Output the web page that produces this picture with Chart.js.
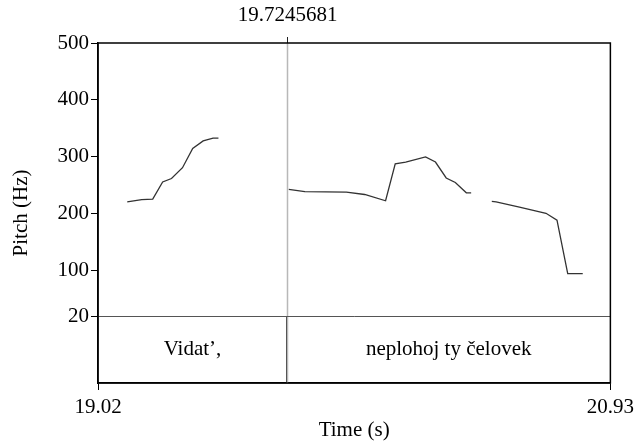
<!DOCTYPE html>
<html>
<head>
<meta charset="utf-8">
<script src="https://cdn.jsdelivr.net/npm/chart.js@4.4.1/dist/chart.umd.min.js"></script>
<style>
    html, body { margin: 0; padding: 0; background: #fff; }
    #wrap { width: 639px; height: 444px; }
</style>
</head>
<body>
<div id="wrap"><canvas id="pitch"></canvas></div>
<script>
// Zeitachse (s) und Tonhöhe (Hz), null trennt stimmlose Abschnitte
const timeValues = [
    19.129, 19.183, 19.224, 19.261, 19.294, 19.335, 19.373, 19.412, 19.449, 19.469,
    19.47,
    19.731, 19.791, 19.946, 20.014, 20.092, 20.128, 20.167, 20.241, 20.278, 20.318, 20.352, 20.393, 20.411,
    20.42,
    20.488, 20.504, 20.591, 20.690, 20.731, 20.771, 20.827
];
const pitchValues = [
    221, 225, 226, 256, 262, 281, 315, 328, 333, 333,
    null,
    243, 239, 238, 234, 223, 288, 291, 300, 291, 263, 255, 237, 237,
    null,
    222, 221, 212, 201, 189, 95, 95
];

const xTicks = [19.02, 20.93];
const yTicks = [20, 100, 200, 300, 400, 500];
const cursorTime = 19.7245681;
const tierBounds = [19.02, 19.7245681, 20.93];
const tierLabels = ['Vidat’,', 'neplohoj ty čelovek'];
const tierBottom = -97; // unterer Rand der Textschicht in Hz-Einheiten

const FONT = 'Liberation Serif, Times New Roman, serif';
const FONT_SIZE = 21;

const points = timeValues.map((t, i) => ({ x: t, y: pitchValues[i] }));

// Rahmen, Cursor und Textschicht
const praatPlugin = {
    id: 'praat',
    afterDatasetsDraw(chart) {
        const ctx = chart.ctx;
        const area = chart.chartArea;
        const xs = chart.scales.x;
        const ys = chart.scales.y;
        const y20 = ys.getPixelForValue(20);
        const cx = Math.round(xs.getPixelForValue(cursorTime)) + 0.5;

        ctx.save();
        // Cursor
        ctx.strokeStyle = '#b8b8b8';
        ctx.lineWidth = 1.5;
        ctx.beginPath();
        ctx.moveTo(cx, area.top);
        ctx.lineTo(cx, area.bottom);
        ctx.stroke();
        ctx.strokeStyle = '#222';
        ctx.lineWidth = 1;
        ctx.beginPath();
        ctx.moveTo(cx, area.top - 6);
        ctx.lineTo(cx, area.top);
        ctx.stroke();

        // Grenze zwischen Tonhöhe und Textschicht
        ctx.strokeStyle = '#555';
        ctx.lineWidth = 1;
        ctx.beginPath();
        ctx.moveTo(area.left, Math.round(y20) + 0.5);
        ctx.lineTo(area.right, Math.round(y20) + 0.5);
        ctx.stroke();

        // Intervallgrenzen
        for (let i = 1; i < tierBounds.length - 1; i++) {
            const bx = Math.round(xs.getPixelForValue(tierBounds[i])) - 0.5;
            ctx.strokeStyle = '#555';
            ctx.beginPath();
            ctx.moveTo(bx, y20);
            ctx.lineTo(bx, area.bottom);
            ctx.stroke();
        }

        // Beschriftungen
        ctx.fillStyle = '#000';
        ctx.font = FONT_SIZE + 'px ' + FONT;
        ctx.textAlign = 'center';
        ctx.textBaseline = 'middle';
        const midY = (y20 + area.bottom) / 2;
        tierLabels.forEach((label, i) => {
            const mx = (xs.getPixelForValue(tierBounds[i]) + xs.getPixelForValue(tierBounds[i + 1])) / 2;
            ctx.fillText(label, mx, midY);
        });
        ctx.fillText(cursorTime.toFixed(7), cx, area.top - 28);

        // Rahmen
        ctx.strokeStyle = '#000';
        ctx.lineWidth = 1.5;
        ctx.strokeRect(area.left, area.top, area.right - area.left, area.bottom - area.top);
        ctx.restore();
    }
};

new Chart(document.getElementById('pitch'), {
    type: 'line',
    data: {
        datasets: [{
            data: points,
            borderColor: '#333',
            borderWidth: 1.3,
            pointRadius: 0,
            tension: 0,
            spanGaps: false
        }]
    },
    options: {
        responsive: true,
        maintainAspectRatio: false,
        animation: false,
        events: [],
        layout: { padding: { top: 43, right: 28, left: 0, bottom: 0 } },
        plugins: { legend: { display: false }, tooltip: { enabled: false } },
        scales: {
            x: {
                type: 'linear',
                min: 19.02,
                max: 20.93,
                afterBuildTicks: scale => { scale.ticks = xTicks.map(v => ({ value: v })); },
                afterFit: scale => { scale.height = 61; },
                grid: {
                    color: 'transparent',
                    tickColor: '#000',
                    tickLength: 7,
                    drawOnChartArea: false
                },
                border: { color: '#000', width: 1.5 },
                ticks: {
                    color: '#000',
                    font: { family: FONT, size: FONT_SIZE },
                    padding: 5,
                    maxRotation: 0,
                    autoSkip: false,
                    callback: v => Number(v).toFixed(2)
                },
                title: {
                    display: true,
                    text: 'Time (s)',
                    color: '#000',
                    font: { family: FONT, size: FONT_SIZE },
                    padding: { top: 0, bottom: 1 }
                }
            },
            y: {
                type: 'linear',
                min: tierBottom,
                max: 500,
                afterBuildTicks: scale => { scale.ticks = yTicks.map(v => ({ value: v })); },
                afterFit: scale => { scale.width = 98; },
                grid: {
                    color: 'transparent',
                    tickColor: '#000',
                    tickLength: 7,
                    drawOnChartArea: false
                },
                border: { color: '#000', width: 1.5 },
                ticks: {
                    color: '#000',
                    font: { family: FONT, size: FONT_SIZE },
                    padding: 2,
                    autoSkip: false
                },
                title: {
                    display: true,
                    text: 'Pitch (Hz)',
                    color: '#000',
                    font: { family: FONT, size: FONT_SIZE },
                    padding: { top: 9, bottom: 0 }
                }
            }
        }
    },
    plugins: [praatPlugin]
});
</script>
</body>
</html>
